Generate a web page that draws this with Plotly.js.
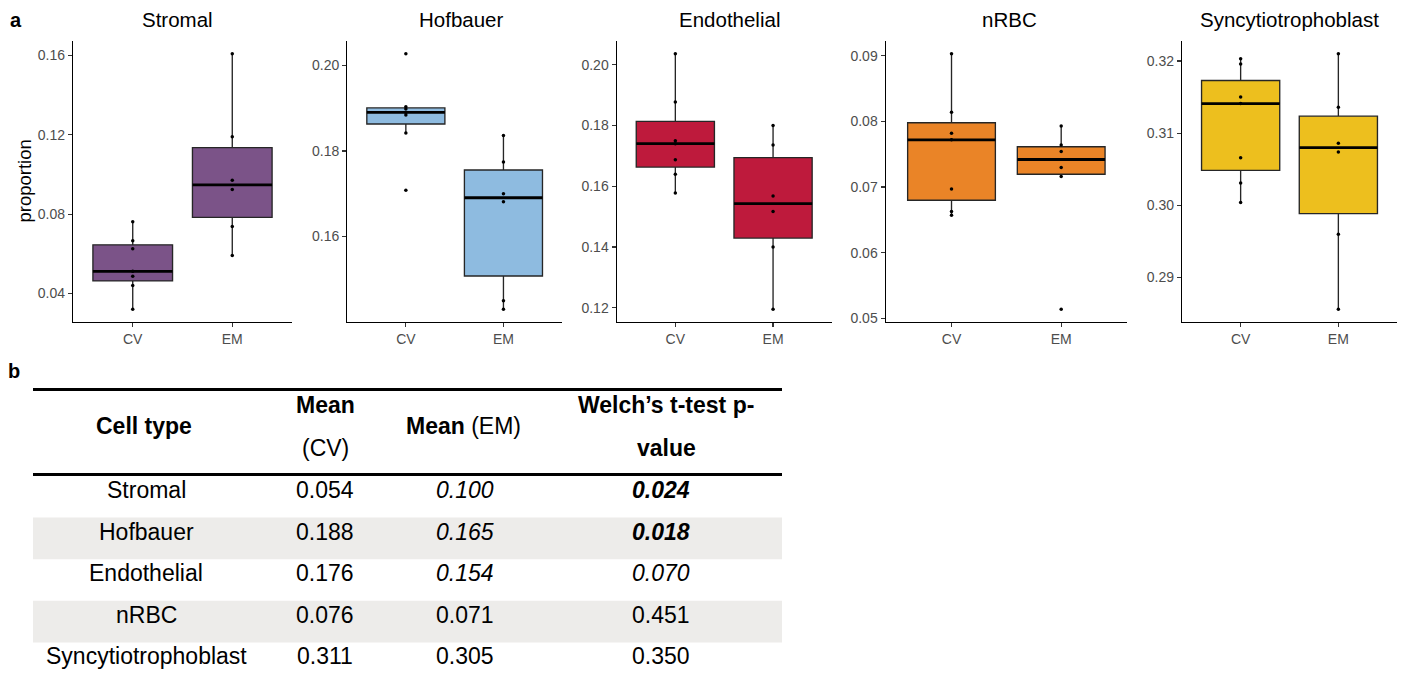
<!DOCTYPE html>
<html>
<head>
<meta charset="utf-8">
<script src="https://cdn.plot.ly/plotly-3.0.1.min.js"></script>
<style>
  html, body { margin: 0; padding: 0; background: #ffffff; }
  #chart { width: 1406px; height: 678px; }
</style>
</head>
<body>
<div id="chart"></div>
<script>
// ---- Sample proportions per cell type, by group ----
const groups = ['CV', 'EM'];
const cellTypes = ['Stromal', 'Hofbauer', 'Endothelial', 'nRBC', 'Syncytiotrophoblast'];

const stromalCV = [0.0762, 0.0665, 0.0625, 0.0511, 0.0486, 0.0440, 0.0320];
const stromalEM = [0.1609, 0.1190, 0.0971, 0.0924, 0.0737, 0.0591];
const hofbauerCV = [0.2027, 0.1903, 0.1898, 0.1890, 0.1884, 0.1842, 0.1708];
const hofbauerEM = [0.1836, 0.1774, 0.1700, 0.1681, 0.1450, 0.1430];
const endothelialCV = [0.2036, 0.1877, 0.1750, 0.1740, 0.1687, 0.1639, 0.1578];
const endothelialEM = [0.1800, 0.1736, 0.1568, 0.1517, 0.1400, 0.1195];
const nrbcCV = [0.0903, 0.0814, 0.0782, 0.0772, 0.0697, 0.0663, 0.0657];
const nrbcEM = [0.0793, 0.0764, 0.0754, 0.0730, 0.0716, 0.0514];
const syncytioCV = [0.3203, 0.3196, 0.3150, 0.3141, 0.3066, 0.3031, 0.3004];
const syncytioEM = [0.3210, 0.3136, 0.3086, 0.3074, 0.2960, 0.2856];

// ---- y tick labels per panel ----
const stromalTicks = ['0.04', '0.08', '0.12', '0.16'];
const hofbauerTicks = ['0.16', '0.18', '0.20'];
const endothelialTicks = ['0.12', '0.14', '0.16', '0.18', '0.20'];
const nrbcTicks = ['0.05', '0.06', '0.07', '0.08', '0.09'];
const syncytioTicks = ['0.29', '0.30', '0.31', '0.32'];

// ---- summary table ----
const tableCellTypes = ['Stromal', 'Hofbauer', 'Endothelial', 'nRBC', 'Syncytiotrophoblast'];
const tableMeanCV = ['0.054', '0.188', '0.176', '0.076', '0.311'];
const tableMeanEM = ['0.100', '0.165', '0.154', '0.071', '0.305'];
const tablePValue = ['0.024', '0.018', '0.070', '0.451', '0.350'];

// ---- styling ----
const W = 1406, H = 678;
const FONT = 'Liberation Sans, Arial, Helvetica, sans-serif';
const fills = ['#7B5388', '#8EBBE0', '#BE1A3C', '#EA8427', '#EDBF1E'];
const panelData = [
  [stromalCV, stromalEM],
  [hofbauerCV, hofbauerEM],
  [endothelialCV, endothelialEM],
  [nrbcCV, nrbcEM],
  [syncytioCV, syncytioEM]
];
const panelTicks = [stromalTicks, hofbauerTicks, endothelialTicks, nrbcTicks, syncytioTicks];
// panel plotting areas in pixels (left, right) and the shared vertical extent
const panelPx = [[73, 292], [347.3, 562], [616.7, 831.7], [885.7, 1127], [1182, 1397]];
const titleCx = [177.7, 461.3, 729, 1009, 1289.8];
const panelTop = 41, panelBottom = 322;

const px2x = p => p / W;
const px2y = p => 1 - p / H;

// ggplot-style (type 7) quantile
function quantile7(sorted, p) {
  const h = (sorted.length - 1) * p;
  const lo = Math.floor(h), hi = Math.ceil(h);
  return sorted[lo] + (h - lo) * (sorted[hi] - sorted[lo]);
}
function boxStats(vals) {
  const s = vals.slice().sort((a, b) => a - b);
  const q1 = quantile7(s, 0.25), med = quantile7(s, 0.5), q3 = quantile7(s, 0.75);
  const iqr = q3 - q1;
  const lo = Math.min(...s.filter(v => v >= q1 - 1.5 * iqr));
  const hi = Math.max(...s.filter(v => v <= q3 + 1.5 * iqr));
  return { q1, med, q3, lo, hi };
}

const traces = [];
const layout = {
  width: W, height: H,
  margin: { l: 0, r: 0, t: 0, b: 0 },
  paper_bgcolor: '#ffffff', plot_bgcolor: '#ffffff',
  showlegend: false,
  font: { family: FONT, color: '#000000' },
  annotations: [],
  shapes: []
};

const boxWidth = 0.8;
panelData.forEach((pair, i) => {
  const k = i === 0 ? '' : String(i + 1);
  const xa = 'x' + k, ya = 'y' + k;
  const stats = pair.map(boxStats);
  const positions = groups.map((g, j) => j + 1);

  traces.push({
    type: 'box', xaxis: xa, yaxis: ya,
    x: positions,
    q1: stats.map(s => s.q1), median: stats.map(s => s.med), q3: stats.map(s => s.q3),
    lowerfence: stats.map(s => s.lo), upperfence: stats.map(s => s.hi),
    width: boxWidth, whiskerwidth: 0, boxpoints: false,
    fillcolor: fills[i], line: { color: '#262626', width: 1.35 },
    hoverinfo: 'skip'
  });

  // heavier median bar
  const mx = [], my = [];
  stats.forEach((s, j) => {
    mx.push(positions[j] - boxWidth / 2, positions[j] + boxWidth / 2, null);
    my.push(s.med, s.med, null);
  });
  traces.push({
    type: 'scatter', mode: 'lines', xaxis: xa, yaxis: ya,
    x: mx, y: my, line: { color: '#000000', width: 2.8 }, hoverinfo: 'skip'
  });

  // individual samples
  const px = [], py = [];
  pair.forEach((vals, j) => vals.forEach(v => { px.push(positions[j]); py.push(v); }));
  traces.push({
    type: 'scatter', mode: 'markers', xaxis: xa, yaxis: ya,
    x: px, y: py, marker: { color: '#000000', size: 3.5, line: { width: 0 } }, hoverinfo: 'skip'
  });

  const all = pair[0].concat(pair[1]);
  const mn = Math.min(...all), mxv = Math.max(...all), span = mxv - mn;
  const tickFont = { family: FONT, size: 14, color: '#4D4D4D' };

  layout['xaxis' + k] = {
    domain: [px2x(panelPx[i][0]), px2x(panelPx[i][1])],
    anchor: ya, range: [0.4, 2.6],
    tickmode: 'array', tickvals: positions, ticktext: groups,
    showline: true, linecolor: '#000000', linewidth: 1.2,
    ticks: 'outside', ticklen: 4, tickwidth: 1.2, tickcolor: '#333333',
    tickfont: tickFont, showgrid: false, zeroline: false, fixedrange: true
  };
  layout['yaxis' + k] = {
    domain: [px2y(panelBottom), px2y(panelTop)],
    anchor: xa, range: [mn - 0.05 * span, mxv + 0.05 * span],
    tickmode: 'array', tickvals: panelTicks[i].map(Number), ticktext: panelTicks[i],
    showline: true, linecolor: '#000000', linewidth: 1.2,
    ticks: 'outside', ticklen: 4, tickwidth: 1.2, tickcolor: '#333333',
    tickfont: tickFont, showgrid: false, zeroline: false, fixedrange: true
  };

  layout.annotations.push({
    xref: 'paper', yref: 'paper', x: px2x(titleCx[i]), y: px2y(20),
    xanchor: 'center', yanchor: 'middle', showarrow: false,
    text: cellTypes[i], font: { family: FONT, size: 20.5, color: '#000000' }
  });
});

// y axis label of the first panel
layout.annotations.push({
  xref: 'paper', yref: 'paper', x: px2x(24), y: px2y((panelTop + panelBottom) / 2),
  xanchor: 'center', yanchor: 'middle', showarrow: false, textangle: -90,
  text: 'proportion', font: { family: FONT, size: 18.5, color: '#000000' }
});

// panel letters
layout.annotations.push({
  xref: 'paper', yref: 'paper', x: px2x(16), y: px2y(20),
  xanchor: 'center', yanchor: 'middle', showarrow: false,
  text: '<b>a</b>', font: { family: FONT, size: 20, color: '#000000' }
});
layout.annotations.push({
  xref: 'paper', yref: 'paper', x: px2x(14), y: px2y(371),
  xanchor: 'center', yanchor: 'middle', showarrow: false,
  text: '<b>b</b>', font: { family: FONT, size: 20, color: '#000000' }
});

// ---- table ----
const tLeft = 33, tRight = 782;
const ruleTop = 389.5, ruleHead = 474.5, rowH = 41.6;
const colX = [146, 325, 465, 661];
const headX = [144, 325, 463, 666];
const tFont = { family: FONT, size: 23, color: '#000000' };

function tText(xpx, ypx, text) {
  layout.annotations.push({
    xref: 'paper', yref: 'paper', x: px2x(xpx), y: px2y(ypx),
    xanchor: 'center', yanchor: 'middle', showarrow: false,
    text: text, font: tFont
  });
}

// shaded alternate rows
tableCellTypes.forEach((_, r) => {
  if (r % 2 === 1) {
    layout.shapes.push({
      type: 'rect', xref: 'paper', yref: 'paper', layer: 'below',
      x0: px2x(tLeft), x1: px2x(tRight),
      y0: px2y(ruleHead + 1.5 + r * rowH), y1: px2y(ruleHead + 1.5 + (r + 1) * rowH),
      fillcolor: '#EDECEA', line: { width: 0 }
    });
  }
});
[ruleTop, ruleHead].forEach(yy => {
  layout.shapes.push({
    type: 'line', xref: 'paper', yref: 'paper',
    x0: px2x(tLeft), x1: px2x(tRight), y0: px2y(yy), y1: px2y(yy),
    line: { color: '#000000', width: 3 }
  });
});

// header
tText(headX[0], 426, '<b>Cell type</b>');
tText(headX[1], 405, '<b>Mean</b>');
tText(headX[1], 448, '(CV)');
tText(headX[2], 426, '<b>Mean</b> (EM)');
tText(headX[3], 405, '<b>Welch\u2019s t-test p-</b>');
tText(headX[3], 448, '<b>value</b>');

// body: p < 0.05 bold italic, p < 0.1 italic (EM mean follows the trend marking)
tableCellTypes.forEach((name, r) => {
  const y = 490 + r * rowH;
  const p = Number(tablePValue[r]);
  const trend = p < 0.1, sig = p < 0.05;
  tText(colX[0], y, name);
  tText(colX[1], y, tableMeanCV[r]);
  tText(colX[2], y, trend ? '<i>' + tableMeanEM[r] + '</i>' : tableMeanEM[r]);
  let pt = tablePValue[r];
  if (trend) pt = '<i>' + pt + '</i>';
  if (sig) pt = '<b>' + pt + '</b>';
  tText(colX[3], y, pt);
});

Plotly.newPlot('chart', traces, layout, { displayModeBar: false, staticPlot: true });
</script>
</body>
</html>
